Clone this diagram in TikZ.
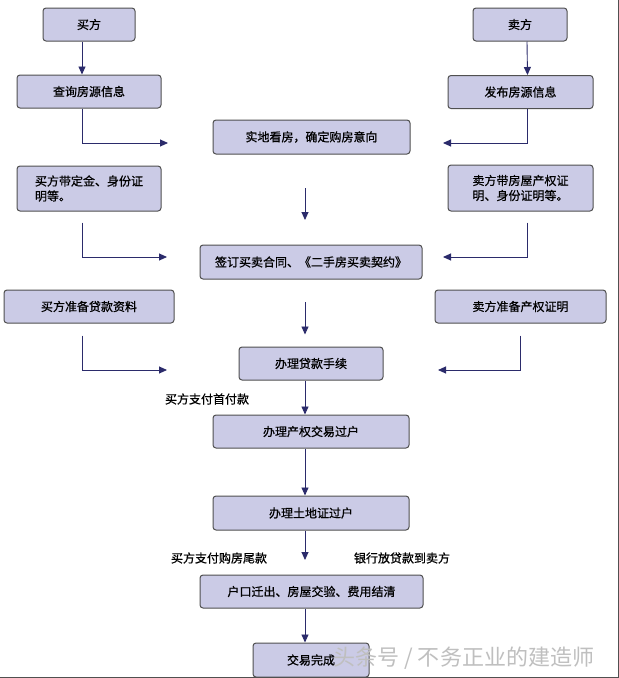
\documentclass[tikz,border=0pt]{standalone}
\usepackage{fontspec}
\newfontfamily\cjk{Noto Sans CJK SC}[FakeBold=0.8,AutoFakeBold=0.8]
\newfontfamily\cjkmark{Noto Sans CJK SC}
\usetikzlibrary{arrows.meta}
\definecolor{boxfill}{HTML}{CBCBE6}
\definecolor{boxline}{HTML}{505050}
\definecolor{arrowc}{HTML}{2B2B6B}
\begin{document}
\begin{tikzpicture}[x=1pt,y=-1pt,
  box/.style={draw=boxline,fill=boxfill,rounded corners=3pt,line width=1pt,
    inner sep=0pt,align=center,font=\cjk\fontsize{12}{15}\selectfont},
  flow/.style={draw=arrowc,line width=0.9pt,-{Triangle[length=8pt,width=7pt]}},
  note/.style={font=\cjk\fontsize{12}{15}\selectfont}]
\useasboundingbox (0,0) rectangle (619,678);
\fill[white] (0,0) rectangle (619,678);
\node[box,minimum width=92pt,minimum height=33pt] (buyer) at (89,24.5) {买方};
\node[box,minimum width=94pt,minimum height=33pt] (seller) at (520,24.5) {卖方};
\node[box,minimum width=144pt,minimum height=33pt] (search) at (89,91.5) {查询房源信息};
\node[box,minimum width=145pt,minimum height=33pt] (publish) at (520.5,92) {发布房源信息};
\node[box,minimum width=197pt,minimum height=34pt] (visit) at (311.5,137) {实地看房，确定购房意向};
\node[box,minimum width=144pt,minimum height=45pt,align=left] (deposit) at (89,188.5) {买方带定金、身份证\\明等。};
\node[box,minimum width=145pt,minimum height=46pt,align=left] (cert) at (520.5,188) {卖方带房屋产权证\\明、身份证明等。};
\node[box,minimum width=222pt,minimum height=34pt] (contract) at (311,262) {签订买卖合同、《二手房买卖契约》};
\node[box,minimum width=170pt,minimum height=33pt] (loandoc) at (89,306.5) {买方准备贷款资料};
\node[box,minimum width=171pt,minimum height=33pt] (propdoc) at (520.5,306.5) {卖方准备产权证明};
\node[box,minimum width=144pt,minimum height=33pt] (loan) at (311,363.5) {办理贷款手续};
\node[box,minimum width=196pt,minimum height=33pt] (transfer) at (311,431.5) {办理产权交易过户};
\node[box,minimum width=196pt,minimum height=34pt] (land) at (311,513) {办理土地证过户};
\node[box,minimum width=223pt,minimum height=33pt] (moveout) at (311.5,591.5) {户口迁出、房屋交验、费用结清};
\node[box,minimum width=116pt,minimum height=34pt] (done) at (311,660) {交易完成};
\node[note] (firstpay) at (207,399) {买方支付首付款};
\node[note] (lastpay) at (219,558) {买方支付购房尾款};
\node[note] (bankpay) at (402,558) {银行放贷款到卖方};
\coordinate (visitin) at (168,143);
\coordinate (visitinr) at (443,143);
\coordinate (visitout) at (305,188);
\coordinate (contractin) at (305,220);
\coordinate (signin) at (167,257);
\coordinate (signinr) at (443,257);
\coordinate (contractout) at (305,302);
\coordinate (loanin) at (167,370);
\coordinate (loaninr) at (438,370);
\coordinate (landout) at (305,560);
\draw[flow] ([xshift=-7pt]buyer.south) -- ([xshift=-7pt]search.north);
\draw[flow] ([xshift=7pt]seller.south) -- ([xshift=7pt]publish.north);
\draw[flow] ([xshift=-7pt]search.south) |- (visitin);
\draw[flow] ([xshift=7pt]publish.south) |- (visitinr);
\draw[flow] (visitout) -- (contractin);
\draw[flow] ([xshift=-7pt,yshift=-11pt]deposit.south) |- (signin);
\draw[flow] ([xshift=7pt,yshift=-11pt]cert.south) |- (signinr);
\draw[flow] (contractout) -- ([yshift=12pt]loan.north -| contractout);
\draw[flow] ([xshift=-7pt,yshift=-12pt]loandoc.south) |- (loanin);
\draw[flow] ([yshift=-12pt]propdoc.south) |- (loaninr);
\draw[flow] (loan.south -| contractout) -- (transfer.north -| contractout);
\draw[flow] (transfer.south -| contractout) -- (land.north -| contractout);
\draw[flow] (land.south -| contractout) -- (landout);
\draw[flow] (moveout.south -| contractout) -- (done.north -| contractout);
\draw[boxline,line width=1pt] (618,0) -- (618,677) -- (0,677);
\node[font=\cjkmark\fontsize{22}{24}\selectfont,text=gray!50,anchor=west] (mark) at (330,658) {头条号 / 不务正业的建造师};
\end{tikzpicture}
\end{document}
